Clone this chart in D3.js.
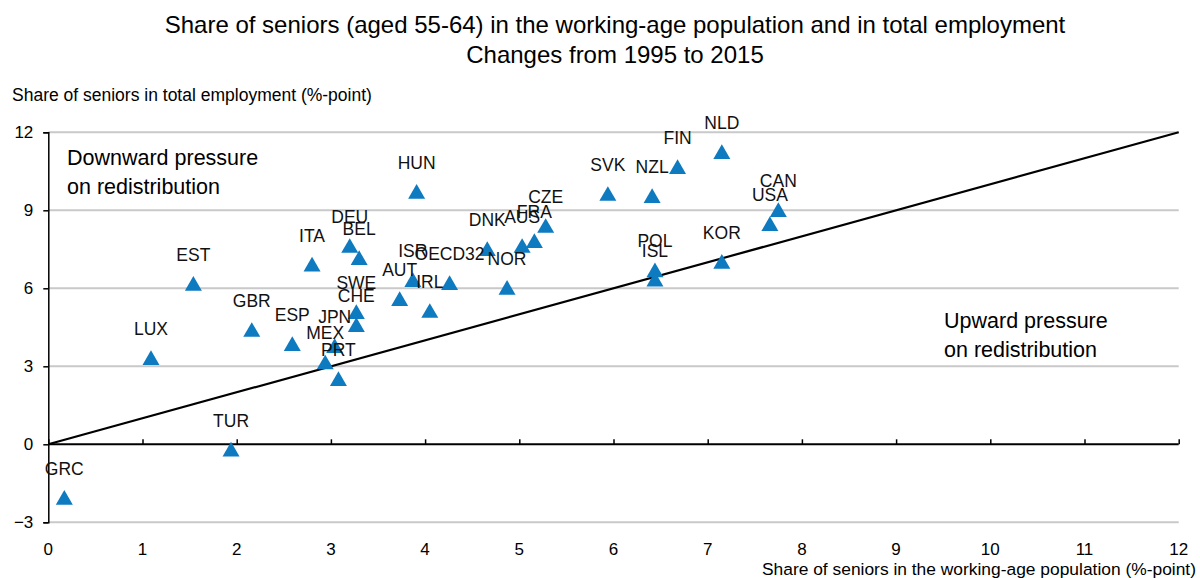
<!DOCTYPE html>
<html><head><meta charset="utf-8">
<script src="https://cdn.jsdelivr.net/npm/d3@7"></script>
<style>body{margin:0;background:#fff}svg{display:block;font-family:"Liberation Sans",Arial,sans-serif}</style>
</head><body>
<svg id="c" width="1200" height="578"></svg>
<script>
const countries = ["GRC","TUR","LUX","EST","GBR","ESP","ITA","DEU","BEL","SWE","CHE","JPN","MEX","PRT","AUT","ISR","IRL","OECD32","HUN","DNK","NOR","AUS","FRA","CZE","SVK","NZL","FIN","NLD","CAN","USA","KOR","POL","ISL"];
const popChange = [0.17,1.94,1.09,1.54,2.16,2.59,2.80,3.20,3.30,3.27,3.27,3.04,2.94,3.08,3.73,3.87,4.05,4.26,3.91,4.66,4.87,5.03,5.16,5.28,5.94,6.41,6.68,7.15,7.75,7.66,7.15,6.44,6.44];
const empChange = [-2.10,-0.24,3.28,6.13,4.36,3.82,6.87,7.59,7.12,5.05,4.55,3.74,3.11,2.47,5.55,6.28,5.09,6.16,9.67,7.47,5.98,7.59,7.78,8.36,9.59,9.51,10.62,11.20,8.97,8.43,6.98,6.65,6.30];
const xTicks = [0,1,2,3,4,5,6,7,8,9,10,11,12];
const yTicks = [-3,0,3,6,9,12];
const titleLines = ["Share of seniors (aged 55-64) in the working-age population and in total employment","Changes from 1995 to 2015"];

const svg = d3.select("#c");
const x = d3.scaleLinear().domain([0,12]).range([48.3,1178.7]);
const y = d3.scaleLinear().domain([-3,12]).range([522.3,132.3]);

// title
svg.selectAll("text.title").data(titleLines).join("text")
  .attr("x",615).attr("y",(d,i)=>33+i*30).attr("text-anchor","middle")
  .attr("font-size",24).attr("fill","#000").text(d=>d);

svg.append("text").attr("x",12).attr("y",101).attr("font-size",17.5).text("Share of seniors in total employment (%-point)");

// gridlines
svg.append("g").selectAll("line").data(yTicks.filter(d=>d!==0)).join("line")
  .attr("x1",x(0)).attr("x2",x(12)).attr("y1",d=>y(d)).attr("y2",d=>y(d))
  .attr("stroke","#c9c9c9").attr("stroke-width",2);

// y axis
const yAxis = d3.axisLeft(y).tickValues(yTicks).tickSize(5).tickPadding(10).tickFormat(d3.format("d"));
const gy = svg.append("g").attr("transform",`translate(${x(0)},0)`).call(yAxis);
gy.select(".domain").attr("stroke","#000").attr("stroke-width",1.5);
gy.selectAll(".tick line").attr("stroke","#000").attr("stroke-width",1.5);
gy.selectAll(".tick text").attr("font-size",17).attr("fill","#000").attr("font-family","Liberation Sans, Arial, sans-serif");

// zero x axis with upward ticks
const xAxis = d3.axisTop(x).tickValues(xTicks).tickSize(5).tickFormat("");
const gx = svg.append("g").attr("transform",`translate(0,${y(0)})`).call(xAxis);
gx.select(".domain").attr("stroke","#000").attr("stroke-width",2).attr("d",`M${x(0)},0H${x(12)}`);
gx.selectAll(".tick line").attr("stroke","#000").attr("stroke-width",1.5);

// x tick labels at bottom
svg.append("g").selectAll("text").data(xTicks).join("text")
  .attr("x",d=>x(d)).attr("y",555).attr("text-anchor","middle").attr("font-size",17).text(d=>d);
svg.append("text").attr("x",1196).attr("y",575).attr("text-anchor","end").attr("font-size",17.4)
  .text("Share of seniors in the working-age population (%-point)");

// 45 degree line
svg.append("line").attr("x1",x(0)).attr("y1",y(0)).attr("x2",x(12)).attr("y2",y(12))
  .attr("stroke","#000").attr("stroke-width",2.2);

// annotations
const ann = [["Downward pressure",67,165],["on redistribution",67,194],["Upward pressure",944,328],["on redistribution",944,357]];
svg.append("g").selectAll("text").data(ann).join("text")
  .attr("x",d=>d[1]).attr("y",d=>d[2]).attr("font-size",21.5).text(d=>d[0]);

// points
const pts = countries.map((c,i)=>({c, x:popChange[i], y:empChange[i]}));
const tri = d3.symbol().type(d3.symbolTriangle).size(125);
svg.append("g").selectAll("path").data(pts).join("path")
  .attr("d",tri).attr("transform",d=>`translate(${x(d.x)},${y(d.y)+1})`).attr("fill","#0e7bc0");
svg.append("g").selectAll("text").data(pts).join("text")
  .attr("x",d=>x(d.x)).attr("y",d=>y(d.y)-24).attr("text-anchor","middle").attr("font-size",17.5)
  .attr("fill","#111").text(d=>d.c);
</script>
</body></html>
